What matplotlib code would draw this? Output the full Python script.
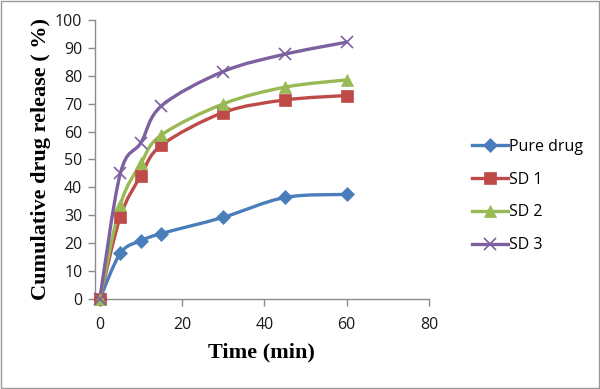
import numpy as np
import matplotlib
matplotlib.use("Agg")
import matplotlib.pyplot as plt
from matplotlib.path import Path
import matplotlib.patches as patches
from matplotlib.lines import Line2D

# dissolution data (time in min, cumulative release in %)
time_min = [0, 5, 10, 15, 30, 45, 60]
pure_drug = [0, 16.4, 20.9, 23.5, 29.3, 36.4, 37.5]
sd1 = [0, 29.5, 44.2, 55.1, 66.8, 71.3, 72.9]
sd2 = [0, 33.7, 48.6, 58.8, 69.9, 75.9, 78.5]
sd3 = [0, 45.0, 56.0, 69.2, 81.5, 87.7, 92.0]

series_names = ["Pure drug", "SD 1", "SD 2", "SD 3"]
series_values = [pure_drug, sd1, sd2, sd3]
series_colors = ["#4A7EBB", "#BE4B48", "#98B954", "#7D60A0"]
series_markers = ["D", "s", "^", "x"]
marker_sizes = [7, 8.5, 9, 9]

x_ticks = [0, 20, 40, 60, 80]
y_ticks = list(range(0, 101, 10))

TICK_FONT = "Open Sans"
LABEL_FONT = "Liberation Serif"
AXIS_GREY = "#8C8C8C"


def smooth_path(ax, xs, ys):
    # excel-like smoothed line: cubic bezier through every point,
    # built in display space so the curvature matches the drawn aspect
    pts = ax.transData.transform(np.column_stack([xs, ys]))
    n = len(pts)
    verts = [pts[0]]
    codes = [Path.MOVETO]
    for i in range(n - 1):
        p0 = pts[max(i - 1, 0)]
        p1 = pts[i]
        p2 = pts[i + 1]
        p3 = pts[min(i + 2, n - 1)]
        c1 = p1 + (p2 - p0) / 6.0
        c2 = p2 - (p3 - p1) / 6.0
        verts += [c1, c2, p2]
        codes += [Path.CURVE4] * 3
    verts = ax.transData.inverted().transform(np.array(verts))
    return Path(verts, codes)


fig = plt.figure(figsize=(6.0, 3.89), dpi=100)
ax = fig.add_axes([0.158, 0.231, 0.557, 0.718])
ax.set_xlim(-1.2, 80)
ax.set_ylim(0, 100)

for name, vals, col, mk, ms in zip(series_names, series_values, series_colors,
                                   series_markers, marker_sizes):
    path = smooth_path(ax, time_min, vals)
    ax.add_patch(patches.PathPatch(path, facecolor="none", edgecolor=col,
                                   lw=2.4, capstyle="round", zorder=2))
    ax.plot(time_min, vals, ls="none", marker=mk, ms=ms, color=col,
            mec=col, mew=1.2 if mk == "x" else 0.5, zorder=3, clip_on=False)

ax.set_xticks(x_ticks)
ax.set_yticks(y_ticks)
ax.tick_params(direction="out", length=5, width=1, color=AXIS_GREY,
               labelsize=11.5, pad=4)
ax.tick_params(axis="x", pad=7.5)
for lbl in ax.get_xticklabels() + ax.get_yticklabels():
    lbl.set_fontfamily(TICK_FONT)
    lbl.set_color("#1a1a1a")

for side in ("top", "right"):
    ax.spines[side].set_visible(False)
for side in ("left", "bottom"):
    ax.spines[side].set_color(AXIS_GREY)
    ax.spines[side].set_linewidth(1)

ax.set_xlabel("Time (min)", fontfamily=LABEL_FONT, fontweight="bold",
              fontsize=16, labelpad=7.5)
ax.set_ylabel("Cumulative drug release ( %)", fontfamily=LABEL_FONT,
              fontweight="bold", fontsize=16, labelpad=2.5)

handles = [Line2D([0], [0], color=c, lw=2.4, marker=m, ms=s, mec=c,
                  mew=1.2 if m == "x" else 0.5)
           for c, m, s in zip(series_colors, series_markers, marker_sizes)]
fig.legend(handles, series_names, loc="center left",
           bbox_to_anchor=(0.762, 0.496), frameon=False,
           prop={"family": TICK_FONT, "size": 11.5},
           handlelength=2.3, handletextpad=0.05, labelspacing=1.05)

# thin grey frame round the whole chart area
fig.patches.append(patches.Rectangle((0.002, 0.003), 0.996, 0.994,
                                     transform=fig.transFigure, fill=False,
                                     edgecolor="#999999", lw=1))

fig.savefig("out.png", dpi=100)
